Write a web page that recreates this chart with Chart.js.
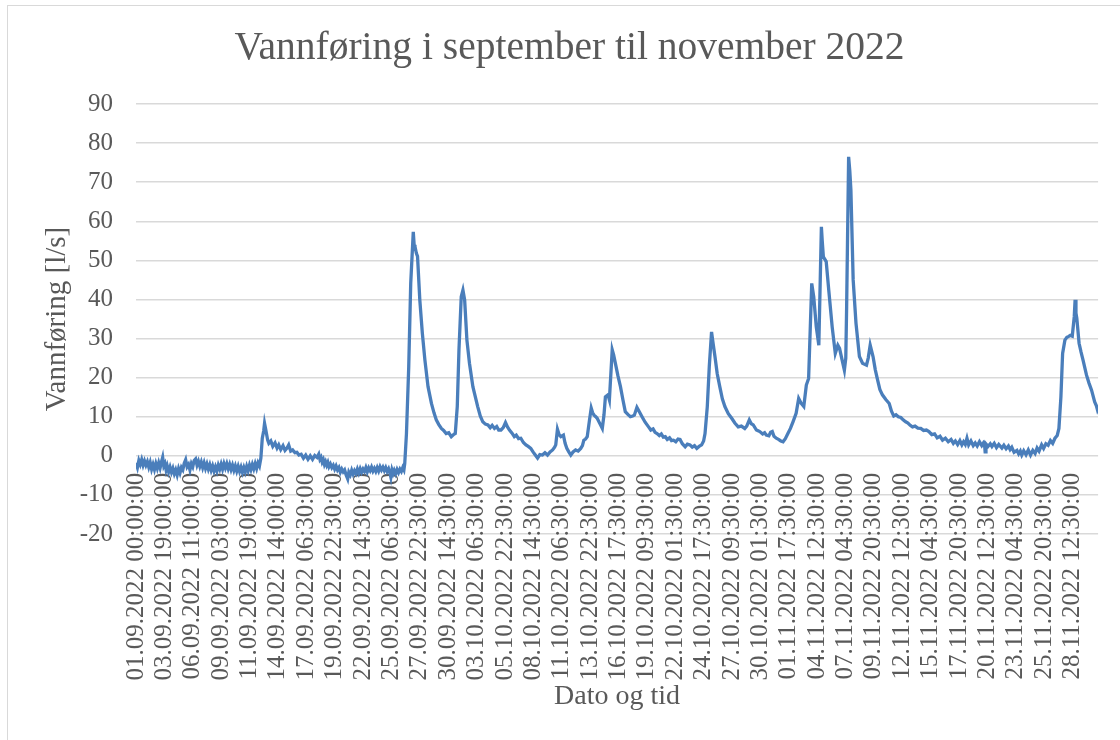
<!DOCTYPE html>
<html>
<head>
<meta charset="utf-8">
<title>Vannføring</title>
<script src="https://cdn.jsdelivr.net/npm/chart.js@4/dist/chart.umd.min.js"></script>
<style>
    html, body { margin: 0; padding: 0; background: #ffffff; }
    #wrap { position: relative; width: 1120px; height: 740px; overflow: hidden; }
    #frame { position: absolute; left: 7px; top: 5px; width: 1130px; height: 760px; border: 1px solid #d9d9d9; box-sizing: border-box; }
    canvas { position: absolute; left: 0; top: 0; }
</style>
</head>
<body>
<div id="wrap">
    <div id="frame"></div>
    <canvas id="flowChart" width="1120" height="740"></canvas>
</div>
<script>
// tick labels on the category axis (one every label step)
const dateLabels = [
    '01.09.2022 00:00:00', '03.09.2022 19:00:00', '06.09.2022 11:00:00', '09.09.2022 03:00:00',
    '11.09.2022 19:00:00', '14.09.2022 14:00:00', '17.09.2022 06:30:00', '19.09.2022 22:30:00',
    '22.09.2022 14:30:00', '25.09.2022 06:30:00', '27.09.2022 22:30:00', '30.09.2022 14:30:00',
    '03.10.2022 06:30:00', '05.10.2022 22:30:00', '08.10.2022 14:30:00', '11.10.2022 06:30:00',
    '13.10.2022 22:30:00', '16.10.2022 17:30:00', '19.10.2022 09:30:00', '22.10.2022 01:30:00',
    '24.10.2022 17:30:00', '27.10.2022 09:30:00', '30.10.2022 01:30:00', '01.11.2022 17:30:00',
    '04.11.2022 12:30:00', '07.11.2022 04:30:00', '09.11.2022 20:30:00', '12.11.2022 12:30:00',
    '15.11.2022 04:30:00', '17.11.2022 20:30:00', '20.11.2022 12:30:00', '23.11.2022 04:30:00',
    '25.11.2022 20:30:00', '28.11.2022 12:30:00'
];

// position of each reading, counted in label steps from 01.09.2022 00:00
const position = [
    0.00, 0.05, 0.10, 0.15, 0.20, 0.25, 0.30, 0.35, 0.40, 0.45,
    0.50, 0.55, 0.60, 0.65, 0.70, 0.75, 0.80, 0.85, 0.90, 0.94,
    0.98, 1.02, 1.06, 1.10, 1.15, 1.20, 1.25, 1.30, 1.35, 1.40,
    1.45, 1.50, 1.55, 1.60, 1.65, 1.70, 1.75, 1.80, 1.85, 1.90,
    1.95, 2.00, 2.05, 2.10, 2.15, 2.20, 2.25, 2.30, 2.35, 2.40,
    2.45, 2.50, 2.55, 2.60, 2.65, 2.70, 2.75, 2.80, 2.85, 2.90,
    2.95, 3.00, 3.05, 3.10, 3.15, 3.20, 3.25, 3.30, 3.35, 3.40,
    3.45, 3.50, 3.55, 3.60, 3.65, 3.70, 3.75, 3.80, 3.85, 3.90,
    3.95, 4.00, 4.05, 4.10, 4.15, 4.20, 4.25, 4.30, 4.35, 4.40,
    4.45, 4.50, 4.53, 4.57, 4.60, 4.64, 4.68, 4.75, 4.82, 4.90,
    4.97, 5.03, 5.10, 5.18, 5.25, 5.32, 5.38, 5.45, 5.52, 5.60,
    5.67, 5.74, 5.82, 5.90, 5.98, 6.06, 6.14, 6.22, 6.30, 6.38,
    6.44, 6.48, 6.52, 6.56, 6.60, 6.64, 6.68, 6.72, 6.76, 6.80,
    6.85, 6.90, 6.95, 7.00, 7.05, 7.10, 7.15, 7.20, 7.25, 7.30,
    7.35, 7.40, 7.46, 7.50, 7.55, 7.60, 7.65, 7.70, 7.75, 7.80,
    7.85, 7.90, 7.95, 8.00, 8.05, 8.10, 8.15, 8.20, 8.25, 8.30,
    8.35, 8.40, 8.45, 8.50, 8.55, 8.60, 8.65, 8.70, 8.75, 8.80,
    8.85, 8.90, 8.94, 8.98, 9.02, 9.06, 9.10, 9.15, 9.20, 9.25,
    9.30, 9.35, 9.40, 9.44, 9.47,
    9.53, 9.61, 9.68, 9.77, 9.80, 9.83, 9.88, 9.92, 10.00, 10.09,
    10.18, 10.29, 10.41, 10.50, 10.58, 10.67, 10.76, 10.84, 10.93, 11.02,
    11.11, 11.20, 11.25, 11.32, 11.38, 11.46, 11.52, 11.58, 11.66, 11.75,
    11.87, 12.04, 12.13, 12.22, 12.31, 12.40, 12.48, 12.55, 12.63, 12.71,
    12.78, 12.86, 12.94, 13.02, 13.09, 13.16, 13.25, 13.33, 13.40, 13.48,
    13.56, 13.65, 13.74, 13.82, 13.91, 13.99, 14.07, 14.15, 14.23, 14.32,
    14.41, 14.50, 14.59, 14.68, 14.75, 14.79, 14.85, 14.91, 14.97, 15.06,
    15.12, 15.18, 15.25, 15.32, 15.40, 15.49, 15.58, 15.67, 15.73, 15.78,
    15.84, 15.90, 15.98, 16.04, 16.09, 16.14, 16.20, 16.25, 16.34, 16.43,
    16.49, 16.54, 16.63, 16.68, 16.78, 16.83, 16.89, 16.98, 17.07, 17.16,
    17.24, 17.33, 17.42, 17.50, 17.56, 17.65, 17.74, 17.83, 17.94, 18.06,
    18.14, 18.22, 18.29, 18.36, 18.44, 18.51, 18.58, 18.65, 18.72, 18.80,
    18.87, 18.94, 19.02, 19.10, 19.17, 19.25, 19.35, 19.43, 19.52, 19.60,
    19.68, 19.76, 19.84, 19.93, 20.00, 20.05, 20.13, 20.20, 20.28, 20.33,
    20.40, 20.48, 20.57, 20.66, 20.75, 20.87, 20.99, 21.10, 21.22, 21.33,
    21.45, 21.52, 21.61, 21.68, 21.75, 21.86, 21.92, 21.98, 22.08, 22.15,
    22.21, 22.30, 22.36, 22.42, 22.48, 22.56, 22.64, 22.72, 22.80, 22.88,
    22.97, 23.06, 23.15, 23.26, 23.35, 23.44, 23.53, 23.62, 23.70, 23.76,
    23.81, 23.88, 23.97, 24.06, 24.11, 24.15, 24.18, 24.22, 24.32, 24.41,
    24.53, 24.64, 24.73, 24.79, 24.84, 24.96, 25.01, 25.04, 25.11, 25.15,
    25.19, 25.27, 25.37, 25.49, 25.60, 25.74, 25.80, 25.87, 25.97, 26.05,
    26.13, 26.21, 26.30, 26.42, 26.54, 26.62, 26.70, 26.78, 26.86, 26.95,
    27.03, 27.12, 27.20, 27.28, 27.36, 27.45, 27.55, 27.65, 27.75, 27.85,
    27.94, 28.04, 28.14, 28.23, 28.33, 28.42, 28.52, 28.62, 28.72, 28.80,
    28.87, 28.95, 29.03, 29.10, 29.16, 29.22, 29.28, 29.34, 29.42, 29.50,
    29.57, 29.64, 29.72, 29.80, 29.86, 29.90, 29.92, 29.95, 30.02, 30.10,
    30.16, 30.24, 30.32, 30.40, 30.51, 30.58, 30.66, 30.74, 30.80, 30.86,
    30.94, 31.04, 31.10, 31.16, 31.21, 31.28, 31.36, 31.44, 31.52, 31.60,
    31.68, 31.75, 31.82, 31.91, 31.98, 32.06, 32.14, 32.22, 32.30, 32.38,
    32.46, 32.52, 32.59, 32.65, 32.73, 32.80, 32.85, 32.92, 32.99, 33.06,
    33.09, 33.12, 33.15, 33.23, 33.30, 33.37, 33.49, 33.58, 33.67, 33.78,
    33.84, 33.88, 33.90
];

// vannføring [l/s] at each position
const flow = [
    -1.8, -3.0, -1.2, -2.2, -1.0, -2.4, -1.3, -2.4, -1.5, -2.9,
    -1.7, -3.4, -2.2, -3.5, -2.0, -3.2, -1.8, -3.1, -1.5, -0.4,
    -2.6, -2.0, -3.6, -2.6, -4.1, -2.9, -4.2, -3.2, -4.6, -3.6,
    -4.9, -3.3, -4.4, -3.0, -3.6, -1.9, -1.0, -2.8, -2.2, -3.6,
    -2.0, -2.8, -1.2, -0.8, -2.4, -1.4, -2.7, -1.6, -3.0, -1.8,
    -3.2, -2.1, -3.4, -2.3, -3.7, -2.6, -3.9, -2.8, -3.9, -2.4,
    -3.4, -2.1, -3.4, -2.0, -3.1, -2.0, -3.3, -2.2, -3.5, -2.4,
    -3.7, -2.6, -3.9, -2.7, -4.0, -2.9, -4.2, -3.0, -4.1, -2.7,
    -3.8, -2.4, -3.5, -2.2, -3.3, -2.0, -3.2, -1.8, -2.6, -0.6,
    4.5, 6.4, 8.3, 6.8, 5.6, 4.0, 3.2, 3.8, 2.4, 3.3,
    2.0, 2.8, 1.6, 2.6, 1.4, 2.0, 2.8, 1.2, 1.5, 0.8,
    0.9, 0.2, 0.4, -0.6, 0.2, -0.9, 0.0, -0.9, 0.1, -0.4,
    0.4, -0.9, -0.4, -1.6, -1.0, -2.2, -1.5, -2.4, -1.7, -2.8,
    -2.1, -3.0, -2.4, -3.4, -2.6, -3.6, -3.0, -4.2, -3.4, -4.1,
    -3.6, -4.8, -5.9, -4.2, -4.9, -3.7, -4.7, -3.8, -4.5, -3.4,
    -4.4, -3.3, -4.2, -3.4, -4.0, -3.0, -4.1, -3.1, -3.8, -2.9,
    -3.9, -3.2, -4.0, -3.0, -3.9, -2.8, -3.6, -2.9, -3.8, -3.0,
    -4.0, -3.3, -4.2, -5.5, -3.6, -4.5, -3.7, -4.6, -3.5, -4.3,
    -3.4, -4.0, -3.0, -3.6, -1.9,
    5.7, 22.8, 44.1, 57.3, 54.0, 53.5, 51.8, 51.0, 39.9, 31.3,
    24.5, 17.7, 13.4, 11.0, 9.2, 8.0, 7.0, 6.5, 5.7, 5.9,
    4.9, 5.5, 5.7, 12.6, 27.1, 40.7, 42.4, 39.9, 29.6, 23.7,
    17.7, 12.6, 10.2, 8.7, 8.1, 7.9, 7.2, 7.8, 7.0, 7.5,
    6.6, 6.6, 7.2, 8.5, 7.4, 6.6, 5.8, 4.9, 5.3, 4.4,
    4.5, 3.4, 2.8, 2.4, 1.9, 1.0, 0.2, -0.6, 0.3, 0.2,
    0.8, 0.2, 1.0, 1.5, 2.2, 2.8, 6.8, 5.4, 4.9, 5.3,
    3.2, 1.9, 1.0, 0.2, 1.0, 1.5, 1.2, 1.9, 2.6, 4.0,
    4.3, 4.9, 9.2, 12.2, 11.0, 10.4, 10.0, 9.6, 8.3, 7.0,
    10.5, 15.1, 15.6, 14.3, 27.1, 25.8, 23.7, 20.5, 17.7, 14.2,
    11.3, 10.6, 10.0, 10.2, 10.4, 12.4, 11.2, 10.0, 8.6, 7.4,
    6.6, 6.9, 6.0, 5.7, 5.2, 5.6, 4.8, 4.9, 4.2, 4.6,
    3.9, 4.0, 3.6, 4.3, 4.2, 3.1, 2.3, 3.0, 2.8, 2.2,
    2.6, 1.9, 2.4, 2.8, 3.8, 5.7, 12.6, 22.8, 31.7, 29.0,
    25.4, 21.0, 17.7, 14.6, 12.6, 10.8, 9.6, 8.4, 7.4, 7.6,
    7.0, 7.6, 9.2, 8.2, 7.9, 6.6, 6.4, 6.2, 5.6, 5.9,
    5.3, 5.1, 6.0, 6.2, 5.0, 4.5, 4.2, 3.8, 3.6, 4.4,
    5.7, 7.0, 8.7, 10.9, 14.7, 13.4, 12.6, 18.1, 19.8, 33.0,
    44.1, 40.7, 33.0, 28.3, 45.0, 58.6, 55.0, 50.9, 49.7, 42.4,
    33.0, 26.2, 28.3, 27.5, 25.8, 21.9, 25.0, 38.1, 76.5, 73.0,
    68.0, 45.0, 33.9, 25.4, 23.7, 23.2, 25.0, 28.3, 25.4, 22.0,
    19.4, 17.0, 15.6, 14.4, 13.4, 11.4, 10.2, 10.5, 10.0, 9.8,
    9.2, 8.7, 8.4, 7.8, 7.4, 7.6, 7.1, 7.0, 6.5, 6.6,
    6.2, 5.4, 5.6, 4.6, 5.0, 4.0, 4.5, 3.6, 4.2, 3.2,
    3.8, 2.9, 3.9, 2.8, 3.6, 2.9, 4.5, 2.8, 3.8, 2.6,
    3.3, 2.5, 3.6, 2.6, 3.3, 2.8, 1.0, 3.0, 2.4, 3.1,
    2.4, 3.2, 2.1, 2.9, 2.0, 2.7, 1.8, 2.5, 1.6, 2.2,
    0.9, 1.4, 0.5, 1.2, 0.2, 1.3, 0.3, 1.5, 0.2, 1.4,
    0.6, 2.0, 1.2, 2.8, 1.9, 3.1, 2.7, 3.9, 3.2, 4.5,
    5.2, 7.0, 15.1, 26.2, 29.6, 30.3, 30.5, 30.8, 30.6, 35.6,
    39.9, 36.5, 35.2, 28.8, 26.5, 24.5, 20.7, 18.6, 16.8, 13.8,
    12.8, 11.7, 12.0
];

const yTicks = { min: -20, max: 90, step: 10 };

const textGrey = '#595959';
const gridGrey = '#d9d9d9';
const lineBlue = '#4a7ebb';

document.addEventListener('DOMContentLoaded', function() {
    const ctx = document.getElementById('flowChart').getContext('2d');

    const points = position.map((p, i) => ({ x: p, y: flow[i] }));

    new Chart(ctx, {
        type: 'line',
        data: {
            datasets: [{
                label: 'Vannføring',
                data: points,
                borderColor: lineBlue,
                borderWidth: 3.3,
                pointRadius: 0,
                tension: 0,
                fill: false
            }]
        },
        options: {
            responsive: false,
            animation: false,
            devicePixelRatio: 1,
            // the x axis sits on the zero line and takes no room of its own,
            // so the space under the plot is kept free here
            layout: { padding: { left: 36, right: 17, top: 0, bottom: 206 } },
            plugins: {
                legend: { display: false },
                tooltip: { enabled: false },
                title: {
                    display: true,
                    text: 'Vannføring i september til november 2022',
                    color: textGrey,
                    font: { family: 'Liberation Serif', size: 39.5, weight: 'normal' },
                    padding: { top: 25.3, bottom: 31.3 }
                }
            },
            scales: {
                x: {
                    type: 'linear',
                    position: { y: 0 },
                    min: 0,
                    max: position[position.length - 1],
                    afterBuildTicks: (scale) => {
                        scale.ticks = dateLabels.map((_, i) => ({ value: i }));
                    },
                    afterFit: (scale) => { scale.height = 206; },
                    grid: { display: false, drawTicks: false },
                    border: { display: false },
                    ticks: {
                        autoSkip: false,
                        minRotation: 90,
                        maxRotation: 90,
                        padding: 17,
                        color: textGrey,
                        font: { family: 'Liberation Serif', size: 25 },
                        callback: (value) => dateLabels[value] || ''
                    },
                    title: {
                        display: true,
                        text: 'Dato og tid',
                        color: textGrey,
                        font: { family: 'Liberation Serif', size: 28, weight: 'normal' },
                        padding: { top: 0, bottom: -52 }
                    }
                },
                y: {
                    min: yTicks.min,
                    max: yTicks.max,
                    afterFit: (scale) => { scale.width = 100; },
                    grid: { color: gridGrey, lineWidth: 1.5, drawTicks: false },
                    border: { display: false },
                    ticks: {
                        stepSize: yTicks.step,
                        padding: 23,
                        color: textGrey,
                        font: { family: 'Liberation Serif', size: 25 }
                    },
                    title: {
                        display: true,
                        text: 'Vannføring [l/s]',
                        color: textGrey,
                        font: { family: 'Liberation Serif', size: 29, weight: 'normal' },
                        padding: { top: 3.6, bottom: 0 }
                    }
                }
            }
        }
    });
});
</script>
</body>
</html>
